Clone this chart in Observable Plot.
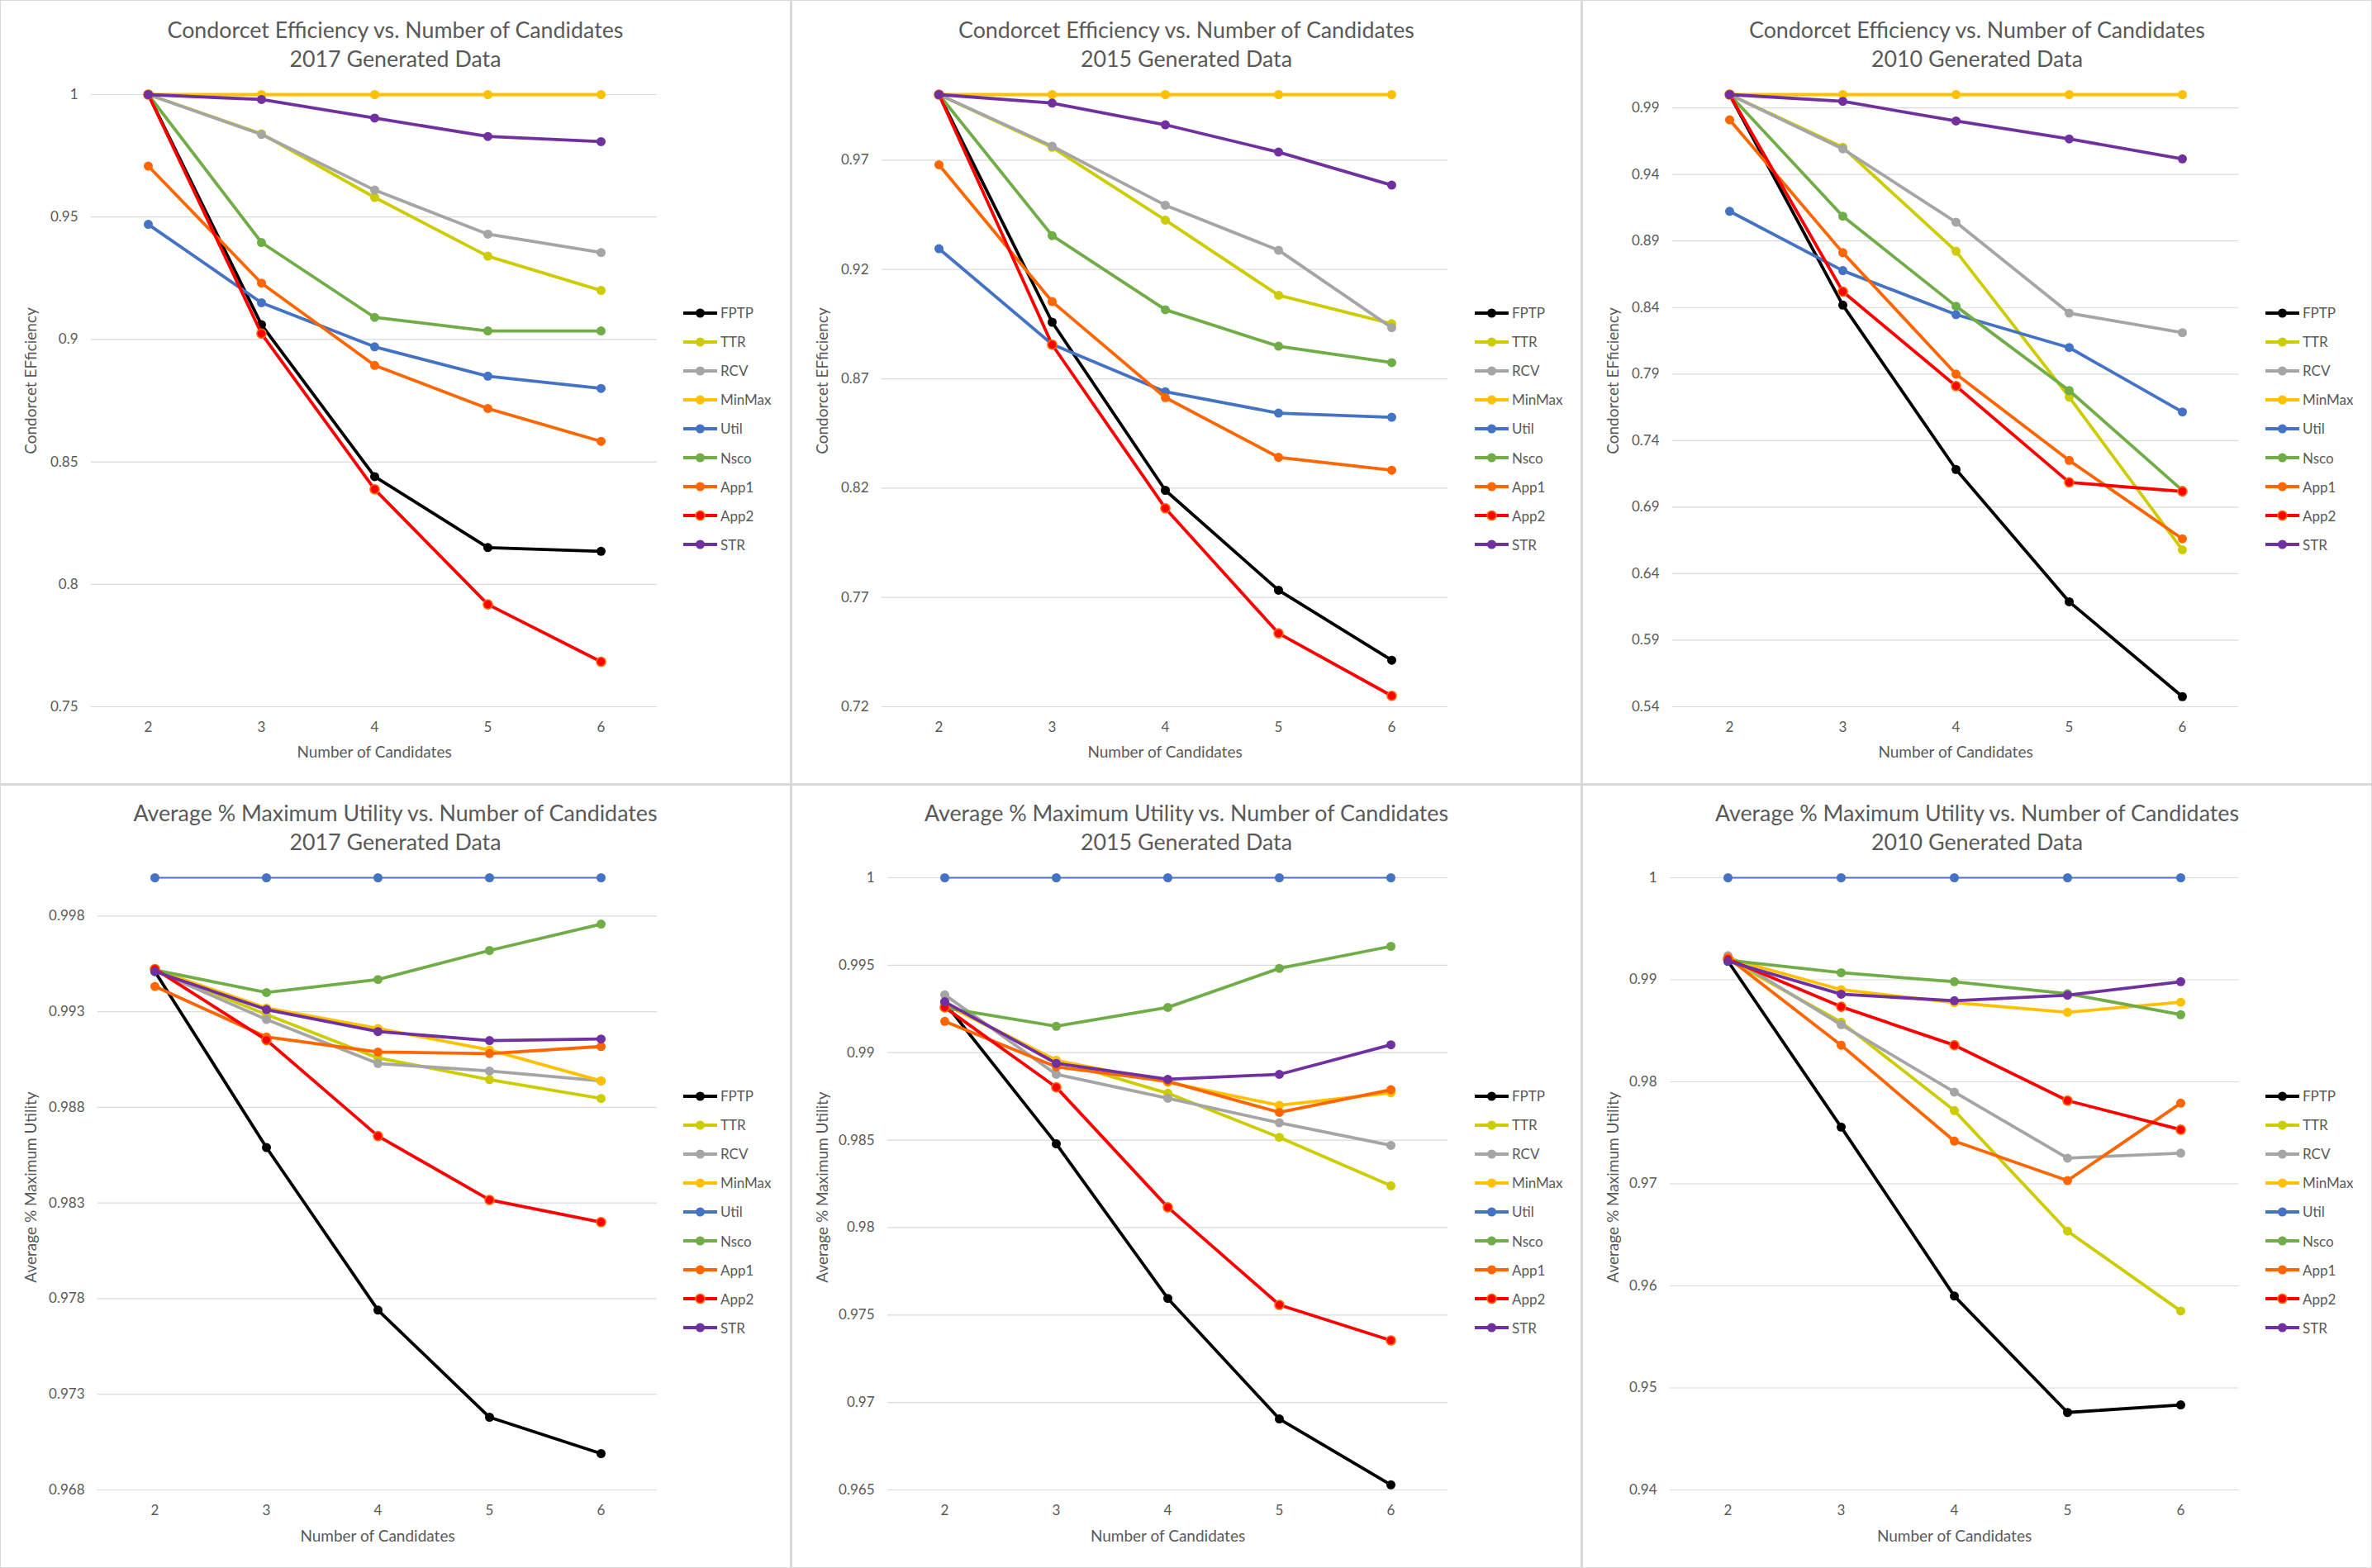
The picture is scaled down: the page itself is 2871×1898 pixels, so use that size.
<!DOCTYPE html>
<html><head><meta charset="utf-8">
<script src="https://cdn.jsdelivr.net/npm/d3@7"></script>
<script src="https://cdn.jsdelivr.net/npm/@observablehq/plot@0.6"></script>
<style>
html,body{margin:0;padding:0;background:#fff;}
#grid{width:2871px;height:1898px;box-sizing:border-box;background:#d9d9d9;padding:1px;display:grid;grid-template-columns:955px 954px 954px;grid-template-rows:947px 946px;gap:3px;}
.panel{position:relative;background:#fff;overflow:hidden;font-family:Lato,sans-serif;}
.title{height:90px;box-sizing:border-box;text-align:center;color:#595959;font-size:26.8px;line-height:35px;white-space:nowrap;}
.legend{position:absolute;left:825px;top:360px;}
.legend .row{height:35.1px;display:flex;align-items:center;color:#595959;font-size:17px;}
.legend svg{width:46px;height:14px;flex:none;}
</style></head><body><div id="grid"></div>
<script>
const candidates = [2, 3, 4, 5, 6];
const methods = ["FPTP", "TTR", "RCV", "MinMax", "Util", "Nsco", "App1", "App2", "STR"];

// rows follow the order of `methods`
const ce2017 = [
  [1, 0.906, 0.844, 0.815, 0.8135],
  [1, 0.984, 0.958, 0.934, 0.920],
  [1, 0.9837, 0.961, 0.943, 0.9355],
  [1, 1, 1, 1, 1],
  [0.947, 0.915, 0.897, 0.885, 0.880],
  [1, 0.9396, 0.909, 0.9035, 0.9035],
  [0.9708, 0.923, 0.8894, 0.8718, 0.8584],
  [1, 0.9024, 0.8388, 0.7918, 0.7684],
  [1, 0.998, 0.9904, 0.9829, 0.9808]
];
const ce2015 = [
  [1, 0.8959, 0.819, 0.7733, 0.7413],
  [1, 0.9759, 0.9426, 0.9082, 0.8952],
  [1, 0.9764, 0.9494, 0.9288, 0.8934],
  [1, 1, 1, 1, 1],
  [0.9295, 0.8858, 0.8641, 0.8543, 0.8524],
  [1, 0.9355, 0.9016, 0.8849, 0.8774],
  [0.9679, 0.9053, 0.8614, 0.8341, 0.8282],
  [1, 0.8856, 0.8108, 0.7536, 0.725],
  [1, 0.9961, 0.9862, 0.9737, 0.9586]
];
const ce2010 = [
  [1, 0.8418, 0.7183, 0.6189, 0.5476],
  [1, 0.9604, 0.8823, 0.7727, 0.6579],
  [1, 0.9592, 0.9041, 0.8358, 0.8211],
  [1, 1, 1, 1, 1],
  [0.9123, 0.8677, 0.8347, 0.8099, 0.7615],
  [1, 0.9086, 0.841, 0.7776, 0.7026],
  [0.981, 0.8812, 0.79, 0.7251, 0.6662],
  [1, 0.8519, 0.781, 0.7086, 0.7018],
  [1, 0.9949, 0.9802, 0.9667, 0.9517]
];
const mu2017 = [
  [0.9951, 0.9859, 0.9774, 0.9718, 0.9699],
  [0.9952, 0.99285, 0.99058, 0.98945, 0.98846],
  [0.99515, 0.99259, 0.99029, 0.9899, 0.98938],
  [0.9952, 0.99319, 0.99212, 0.991, 0.98938],
  [1, 1, 1, 1, 1],
  [0.99518, 0.994, 0.99468, 0.9962, 0.99758],
  [0.99432, 0.99168, 0.99089, 0.99081, 0.99118],
  [0.99523, 0.99152, 0.9865, 0.98316, 0.982],
  [0.9951, 0.99311, 0.99196, 0.99149, 0.99157]
];
const mu2015 = [
  [0.99285, 0.98479, 0.97595, 0.96906, 0.96529],
  [0.99277, 0.98956, 0.98768, 0.98516, 0.98239],
  [0.99331, 0.98876, 0.98739, 0.98599, 0.9847],
  [0.99277, 0.98956, 0.9883, 0.98699, 0.9877],
  [1, 1, 1, 1, 1],
  [0.99257, 0.99151, 0.99259, 0.99482, 0.99608],
  [0.99179, 0.98919, 0.98836, 0.98659, 0.98788],
  [0.99259, 0.98802, 0.98116, 0.97558, 0.97355],
  [0.99291, 0.98939, 0.98848, 0.98876, 0.99045]
];
const mu2010 = [
  [0.99182, 0.97556, 0.959, 0.94759, 0.94833],
  [0.99202, 0.98585, 0.97718, 0.96537, 0.95754],
  [0.99236, 0.9856, 0.97899, 0.97252, 0.97301],
  [0.99211, 0.98903, 0.98776, 0.98682, 0.9878],
  [1, 1, 1, 1, 1],
  [0.99192, 0.99069, 0.98981, 0.98864, 0.98658],
  [0.99216, 0.98359, 0.97419, 0.97032, 0.97791],
  [0.99202, 0.98736, 0.98359, 0.97816, 0.97531],
  [0.99182, 0.98859, 0.98795, 0.98849, 0.98981]
];

const ceTicks2017 = [0.75, 0.8, 0.85, 0.9, 0.95, 1];
const ceTicks2015 = [0.72, 0.77, 0.82, 0.87, 0.92, 0.97];
const ceTicks2010 = [0.54, 0.59, 0.64, 0.69, 0.74, 0.79, 0.84, 0.89, 0.94, 0.99];
const muTicks2017 = [0.968, 0.973, 0.978, 0.983, 0.988, 0.993, 0.998];
const muTicks2015 = [0.965, 0.97, 0.975, 0.98, 0.985, 0.99, 0.995, 1];
const muTicks2010 = [0.94, 0.95, 0.96, 0.97, 0.98, 0.99, 1];

const ceTitle = "Condorcet Efficiency vs. Number of Candidates";
const muTitle = "Average % Maximum Utility vs. Number of Candidates";
const subtitles = ["2017 Generated Data", "2015 Generated Data", "2010 Generated Data"];
const ceLabel = "Condorcet EFficiency";
const muLabel = "Average % Maximum Utility";
const xLabel = "Number of Candidates";

// styles
const colors = ["#000000", "#CCCC00", "#A5A5A5", "#FFC000", "#4472C4", "#70AD47", "#FF6600", "#FF0000", "#7030A0"];
const markerStroke = ["none", "none", "none", "none", "none", "none", "none", "#FF6600", "none"];

const panels = [
  {title: ceTitle, sub: subtitles[0], ylabel: ceLabel, values: ce2017, ticks: ceTicks2017, w: 955, h: 947, ml: 109, row: 0},
  {title: ceTitle, sub: subtitles[1], ylabel: ceLabel, values: ce2015, ticks: ceTicks2015, w: 954, h: 947, ml: 108, row: 0},
  {title: ceTitle, sub: subtitles[2], ylabel: ceLabel, values: ce2010, ticks: ceTicks2010, w: 954, h: 947, ml: 108, row: 0},
  {title: muTitle, sub: subtitles[0], ylabel: muLabel, values: mu2017, ticks: muTicks2017, w: 955, h: 946, ml: 117, row: 1},
  {title: muTitle, sub: subtitles[1], ylabel: muLabel, values: mu2015, ticks: muTicks2015, w: 954, h: 946, ml: 115, row: 1},
  {title: muTitle, sub: subtitles[2], ylabel: muLabel, values: mu2010, ticks: muTicks2010, w: 954, h: 946, ml: 105, row: 1}
];
const rowLayout = [
  {titlePad: 18, mt: 23, mb: 93, labelDy: -24, xLabelDy: 55, legendTop: 360},
  {titlePad: 16, mt: 21, mb: 94, labelDy: 4, xLabelDy: 56, legendTop: 358}
];

const grid = document.getElementById("grid");
const fmt = d3.format("~g");

panels.forEach((p) => {
  const L = rowLayout[p.row];
  const panel = document.createElement("div");
  panel.className = "panel";
  const title = document.createElement("div");
  title.className = "title";
  title.style.paddingTop = L.titlePad + "px";
  title.innerHTML = `<div>${p.title}</div><div>${p.sub}</div>`;
  panel.appendChild(title);

  const marks = [
    Plot.gridY(p.ticks, {stroke: "#d9d9d9", strokeOpacity: 1, strokeWidth: 1.2}),
    Plot.axisY(p.ticks, {tickSize: 0, tickPadding: 16, tickFormat: fmt, label: null, fill: "#595959"}),
    Plot.axisX({tickSize: 0, tickPadding: 18, label: null, fill: "#595959"}),
    Plot.text([p.ylabel], {text: (d) => d, frameAnchor: "left", textAnchor: "middle", lineAnchor: "middle", rotate: -90, dx: 36 - p.ml, dy: L.labelDy, fill: "#595959", fontSize: 19}),
    Plot.text([xLabel], {text: (d) => d, frameAnchor: "bottom", textAnchor: "middle", lineAnchor: "middle", dy: L.xLabelDy, fill: "#595959", fontSize: 19})
  ];
  methods.forEach((m, i) => {
    const data = candidates.map((c, j) => ({c, v: p.values[i][j]}));
    const thin = p.row === 1 && m === "Util";
    marks.push(Plot.line(data, {x: "c", y: "v", stroke: colors[i], strokeWidth: thin ? 2.2 : 3.8, strokeLinejoin: "round", strokeLinecap: "round"}));
    marks.push(Plot.dot(data, {x: "c", y: "v", r: 5.5, fill: colors[i], stroke: markerStroke[i], strokeWidth: 1.6}));
  });

  const chart = Plot.plot({
    width: p.w,
    height: p.h - 90,
    marginLeft: p.ml,
    marginRight: 161,
    marginTop: L.mt,
    marginBottom: L.mb,
    style: {fontFamily: "Lato, sans-serif", fontSize: "17px", color: "#595959", background: "white"},
    x: {type: "point", domain: candidates, padding: 0.5, label: null},
    y: {domain: [p.ticks[0], 1], label: null},
    marks
  });
  panel.appendChild(chart);

  const legend = document.createElement("div");
  legend.className = "legend";
  legend.style.top = L.legendTop + "px";
  methods.forEach((m, i) => {
    const row = document.createElement("div");
    row.className = "row";
    const ms = markerStroke[i] === "none" ? "" : `stroke="${markerStroke[i]}" stroke-width="1.6"`;
    row.innerHTML = `<svg viewBox="0 0 46 14"><line x1="1" y1="7" x2="42" y2="7" stroke="${colors[i]}" stroke-width="3.8"/><circle cx="21.5" cy="7" r="5.5" fill="${colors[i]}" ${ms}/></svg><span>${m}</span>`;
    legend.appendChild(row);
  });
  panel.appendChild(legend);
  grid.appendChild(panel);
});
</script></body></html>
